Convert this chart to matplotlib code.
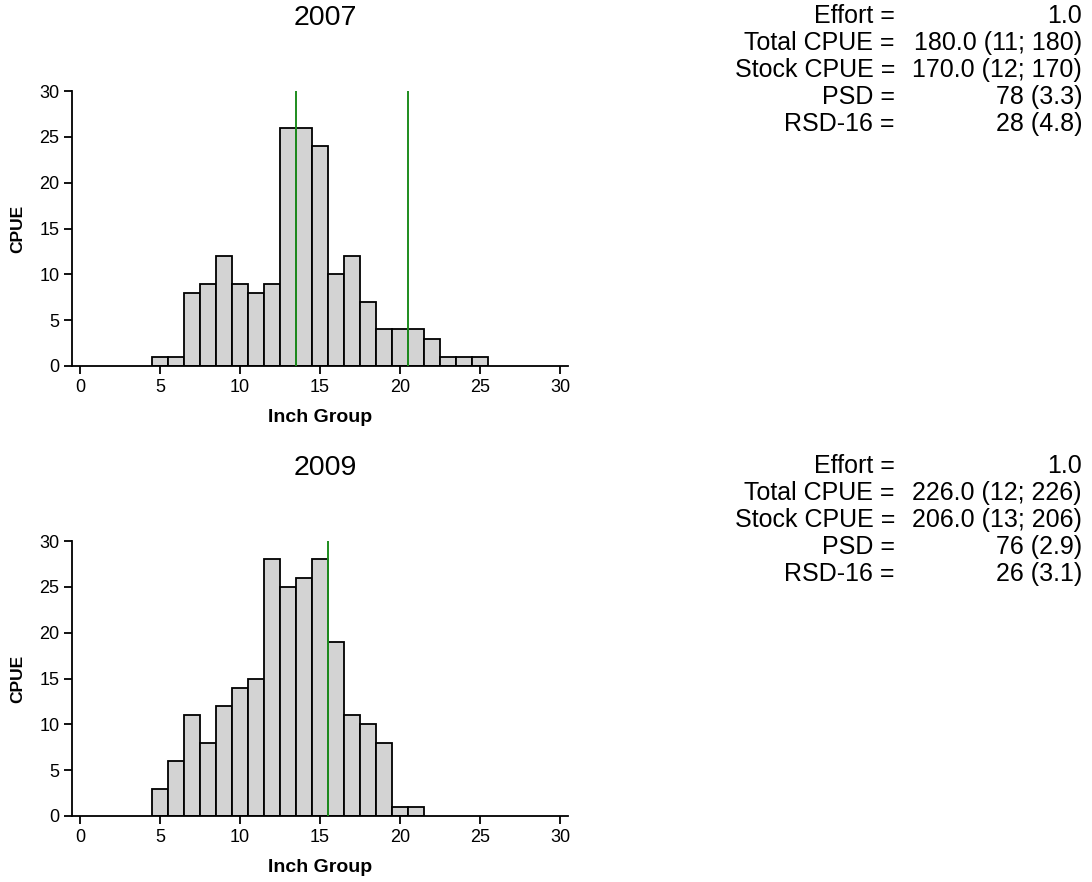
import matplotlib
matplotlib.use("Agg")
import matplotlib.pyplot as plt

plt.rcParams['font.family'] = ['Liberation Sans', 'DejaVu Sans']

# ---- data ----
years = ["2007", "2009"]
inch_2007 = [5, 6, 7, 8, 9, 10, 11, 12, 13, 14, 15, 16, 17, 18, 19, 20, 21, 22, 23, 24, 25]
cpue_2007 = [1, 1, 8, 9, 12, 9, 8, 9, 26, 26, 24, 10, 12, 7, 4, 4, 4, 3, 1, 1, 1]
inch_2009 = [5, 6, 7, 8, 9, 10, 11, 12, 13, 14, 15, 16, 17, 18, 19, 20, 21]
cpue_2009 = [3, 6, 11, 8, 12, 14, 15, 28, 25, 26, 28, 19, 11, 10, 8, 1, 1]
lines_2007 = [13.5, 20.5]
lines_2009 = [15.5]
stat_labels = ["Effort =", "Total CPUE =", "Stock CPUE =", "PSD =", "RSD-16 ="]
stats_2007 = ["1.0", "180.0 (11; 180)", "170.0 (12; 170)", "78 (3.3)", "28 (4.8)"]
stats_2009 = ["1.0", "226.0 (12; 226)", "206.0 (13; 206)", "76 (2.9)", "26 (3.1)"]
x_ticks = [0, 5, 10, 15, 20, 25, 30]
y_ticks = [0, 5, 10, 15, 20, 25, 30]

W, H = 1092, 882
fig = plt.figure(figsize=(W / 100, H / 100), dpi=100)

panels = [
    (years[0], inch_2007, cpue_2007, lines_2007, stats_2007, 0),
    (years[1], inch_2009, cpue_2009, lines_2009, stats_2009, 450),
]

for title, xs, ys, vls, stats, off in panels:
    left, right = 72, 568
    top, bottom = 91 + off, 366 + off
    ax = fig.add_axes([left / W, 1 - bottom / H, (right - left) / W, (bottom - top) / H])
    ax.bar(xs, ys, width=1.0, color="#d3d3d3", edgecolor="black", linewidth=1.3, zorder=2)
    for v in vls:
        ax.axvline(v, ymin=0, ymax=1, color="#1e8c1e", linewidth=1.4, zorder=3)
    ax.set_xlim(-0.5, 30.5)
    ax.set_ylim(0, 30)
    ax.set_xticks(x_ticks)
    ax.set_yticks(y_ticks)
    for s in ["top", "right"]:
        ax.spines[s].set_visible(False)
    for s in ["left", "bottom"]:
        ax.spines[s].set_linewidth(1.3)
    ax.tick_params(axis="both", direction="out", length=6, width=1.3,
                   labelsize=13, colors="black", pad=3)
    ax.set_xlabel("Inch Group", fontsize=14, fontweight="bold", labelpad=10)
    ax.set_ylabel("CPUE", fontsize=12.5, fontweight="bold", labelpad=10)
    fig.text(325 / W, 1 - (18 + off) / H, title, ha="center", va="center", fontsize=20.5)

    for i, (lab, val) in enumerate(zip(stat_labels, stats)):
        yc = 1 - (16 + off + i * 27) / H
        fig.text(895 / W, yc, lab, ha="right", va="center", fontsize=18)
        fig.text(1082 / W, yc, val, ha="right", va="center", fontsize=18)

fig.savefig("out.png", dpi=100)
